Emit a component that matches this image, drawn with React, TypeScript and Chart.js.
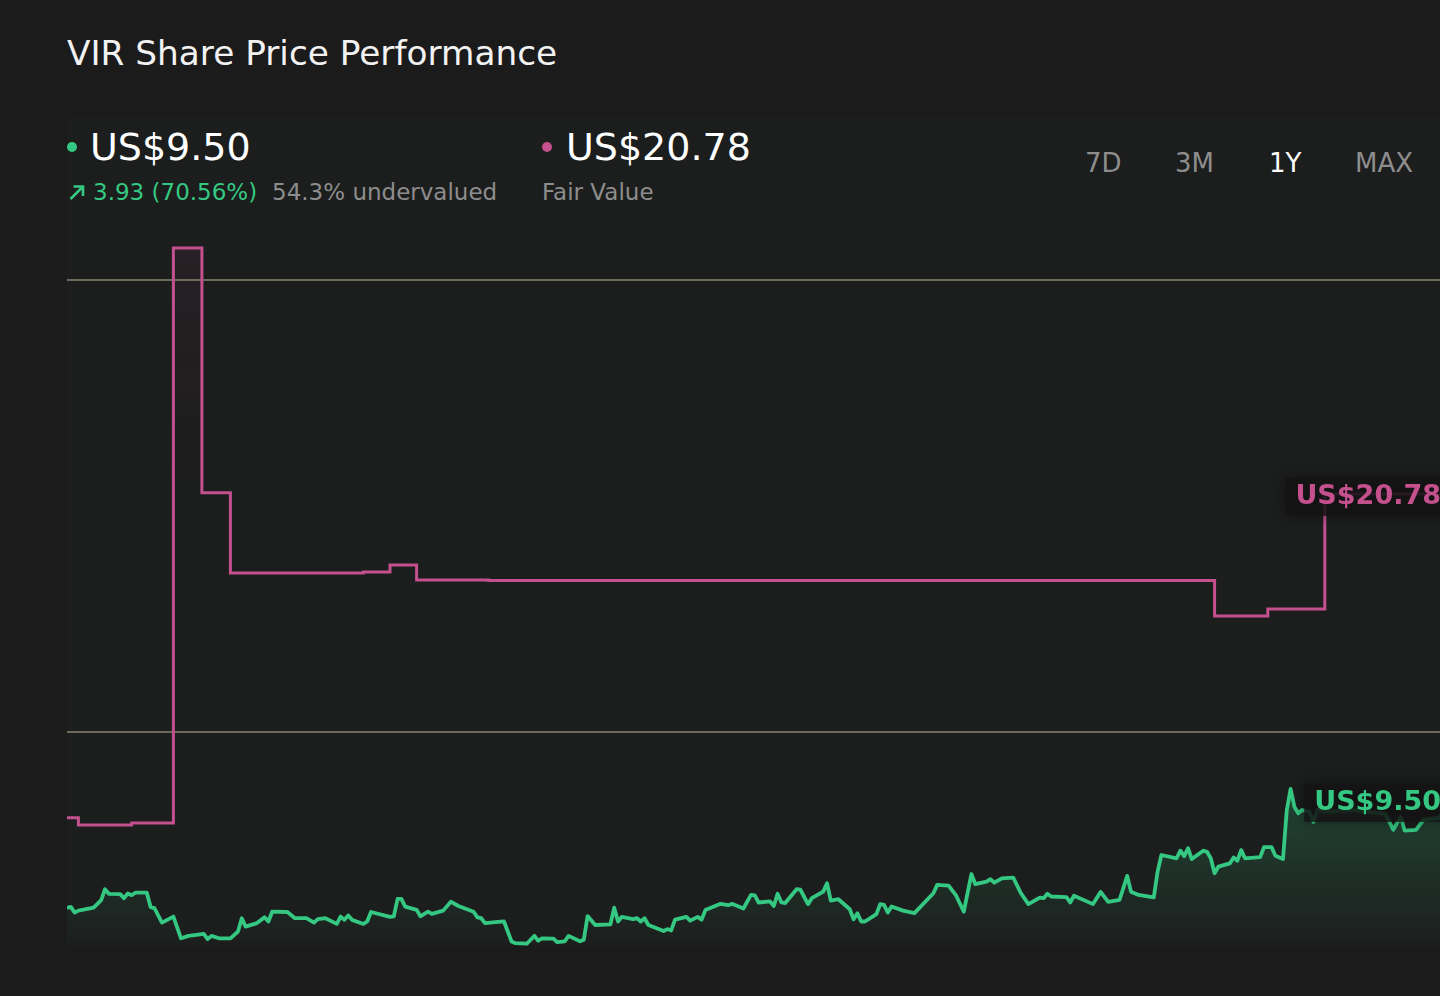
import { useEffect, useRef } from "react"
import { Chart, registerables } from "chart.js"

Chart.register(...registerables)

// Share price, day index (calendar days over the last year) and US$
const priceDays = [
  0, 1, 2, 3, 7, 9, 10, 11, 14, 15, 16, 17, 18, 21, 22, 23, 25, 28, 30, 32, 36, 37, 38, 40, 43, 45, 46, 47, 50, 52,
  53, 54, 58, 60, 63, 65, 66, 68, 71, 72, 73, 74, 75, 78, 79, 80, 85, 86, 87, 88, 89, 92, 93, 95, 96, 99, 101, 103,
  107, 108, 109, 110, 112, 115, 117, 118, 121, 123, 124, 125, 128, 129, 131, 132, 135, 136, 137, 139, 143, 144, 145,
  146, 149, 150, 151, 152, 153, 157, 158, 159, 160, 163, 164, 166, 167, 168, 172, 174, 175, 178, 180, 181, 182, 185,
  186, 187, 188, 189, 192, 193, 195, 196, 199, 200, 201, 203, 206, 207, 208, 209, 210, 213, 214, 215, 216, 217, 220,
  223, 228, 229, 232, 234, 236, 238, 239, 242, 243, 244, 246, 249, 251, 253, 256, 257, 258, 259, 263, 264, 265, 270,
  272, 274, 277, 279, 280, 282, 286, 287, 288, 292, 293, 294, 295, 296, 299, 300, 301, 302, 303, 306, 307, 308, 309,
  310, 314, 315, 317, 318, 320, 321, 322, 323, 324, 325, 327, 328, 329, 332, 338, 343, 347, 349, 351, 352, 355, 357,
  361, 365,
]
const priceValues = [
  5.52, 5.56, 5.35, 5.42, 5.53, 5.81, 6.21, 6.04, 6.03, 5.88, 6.05, 5.99, 6.08, 6.08, 5.55, 5.51, 4.98, 5.2, 4.4, 4.49,
  4.56, 4.37, 4.49, 4.4, 4.4, 4.65, 5.14, 4.83, 4.96, 5.18, 5.02, 5.38, 5.37, 5.14, 5.14, 4.98, 5.11, 5.14, 4.93, 5.2,
  5.08, 5.24, 5.08, 4.93, 5.02, 5.37, 5.19, 5.21, 5.85, 5.85, 5.57, 5.45, 5.21, 5.38, 5.3, 5.42, 5.75, 5.59, 5.38,
  5.17, 5.14, 4.96, 4.99, 5.02, 4.28, 4.22, 4.2, 4.49, 4.31, 4.4, 4.39, 4.26, 4.29, 4.49, 4.29, 4.35, 5.22, 4.89,
  4.91, 5.53, 5.02, 5.19, 5.11, 5.14, 5.02, 5.14, 4.89, 4.67, 4.74, 4.69, 5.09, 5.19, 5.05, 5.19, 5.09, 5.44, 5.67,
  5.62, 5.67, 5.5, 6.0, 5.98, 5.72, 5.76, 5.59, 6.04, 5.72, 5.7, 6.21, 6.19, 5.66, 5.88, 6.12, 6.43, 5.79, 5.84,
  5.47, 5.1, 5.32, 5.02, 5.02, 5.29, 5.66, 5.63, 5.35, 5.57, 5.42, 5.33, 6.06, 6.37, 6.34, 5.97, 5.38, 6.77, 6.4,
  6.49, 6.58, 6.45, 6.61, 6.64, 6.07, 5.66, 5.9, 5.88, 6.04, 5.94, 5.92, 5.72, 5.97, 5.66, 6.11, 5.74, 5.82, 6.7,
  6.12, 6.0, 5.91, 6.86, 7.47, 7.35, 7.63, 7.43, 7.72, 7.32, 7.63, 7.59, 7.35, 6.8, 7.04, 7.16, 7.38, 7.26, 7.65,
  7.35, 7.39, 7.76, 7.76, 7.44, 7.32, 9.13, 9.91, 9.25, 9.01, 9.13, 9.06, 8.69, 9.13, 9.06, 9.13, 9.06, 8.98, 8.4,
  8.88, 8.37, 8.4, 8.77, 8.84, 9.5,
]

// Fair value estimate, changes on these days
const fairValueDays = [0, 3, 17, 28, 35.5, 43, 78, 85, 92, 111, 302, 316, 331, 365]
const fairValues = [8.84, 8.58, 8.65, 29.85, 20.82, 17.87, 17.9, 18.16, 17.61, 17.59, 16.28, 16.54, 20.78, 20.78]

const gridValues = [12, 28.67]
const ranges = ["7D", "3M", "1Y", "MAX"]
const activeRange = "1Y"

const GREEN = "#35c882"
const PINK = "#c4508e"
const FONT = "'DejaVu Sans', sans-serif"

const endLabels = {
  id: "endLabels",
  afterDatasetsDraw(chart: any) {
    const { ctx, chartArea, scales } = chart
    chart.data.datasets.forEach((ds: any) => {
      const last = ds.data[ds.data.length - 1]
      const y = scales.y.getPixelForValue(last.y)
      const text = "US$" + last.y.toFixed(2)
      ctx.save()
      ctx.font = `bold 27px ${FONT}`
      const w = ctx.measureText(text).width
      const right = chartArea.right - 13
      ctx.shadowColor = "rgba(0,0,0,0.5)"
      ctx.shadowBlur = 14
      ctx.fillStyle = "rgba(21,20,21,0.8)"
      ctx.fillRect(right - w - 10, y - 16, w + 40, 38)
      ctx.shadowBlur = 0
      ctx.fillStyle = ds.borderColor
      ctx.textAlign = "right"
      ctx.textBaseline = "alphabetic"
      ctx.fillText(text, right, y + 10)
      ctx.restore()
    })
  },
}

function PriceChart() {
  const chartRef = useRef<HTMLCanvasElement>(null)
  const chartInstance = useRef<Chart | null>(null)

  useEffect(() => {
    if (!chartRef.current) return
    if (chartInstance.current) chartInstance.current.destroy()
    const ctx = chartRef.current.getContext("2d")
    if (!ctx) return

    chartInstance.current = new Chart(ctx, {
      type: "line",
      data: {
        datasets: [
          {
            label: "Fair Value",
            data: fairValueDays.map((d, i) => ({ x: d, y: fairValues[i] })),
            borderColor: PINK,
            borderWidth: 3,
            stepped: true,
            pointRadius: 0,
            borderJoinStyle: "miter",
            fill: "start",
            backgroundColor: (c: any) => {
              const { chart } = c
              const { chartArea, scales } = chart
              if (!chartArea) return "transparent"
              const g = chart.ctx.createLinearGradient(0, chartArea.top, 0, scales.y.getPixelForValue(21))
              g.addColorStop(0, "rgba(196,80,142,0.07)")
              g.addColorStop(1, "rgba(196,80,142,0)")
              return g
            },
          },
          {
            label: "Share Price",
            data: priceDays.map((d, i) => ({ x: d, y: priceValues[i] })),
            borderColor: GREEN,
            borderWidth: 3.8,
            tension: 0,
            pointRadius: 0,
            borderJoinStyle: "round",
            fill: "start",
            backgroundColor: (c: any) => {
              const { chart } = c
              const { chartArea, scales } = chart
              if (!chartArea) return "transparent"
              const g = chart.ctx.createLinearGradient(
                0,
                scales.y.getPixelForValue(10),
                0,
                scales.y.getPixelForValue(3.9)
              )
              g.addColorStop(0, "rgba(53,200,130,0.24)")
              g.addColorStop(1, "rgba(53,200,130,0)")
              return g
            },
          },
        ],
      },
      options: {
        responsive: true,
        maintainAspectRatio: false,
        animation: false,
        layout: { padding: { left: 0, right: 13, top: 0, bottom: 0 } },
        scales: {
          x: { type: "linear", min: 0, max: 365, display: false },
          y: {
            type: "linear",
            min: 3.6,
            max: 30.51,
            afterBuildTicks: (scale: any) => {
              scale.ticks = gridValues.map((value) => ({ value }))
            },
            ticks: { display: false },
            border: { display: false },
            grid: { color: "rgba(150,145,122,0.68)", lineWidth: 2, drawTicks: false },
          },
        },
        plugins: {
          legend: { display: false },
          tooltip: { enabled: false },
        },
      },
      plugins: [endLabels],
    })

    return () => {
      if (chartInstance.current) {
        chartInstance.current.destroy()
        chartInstance.current = null
      }
    }
  }, [])

  return <canvas ref={chartRef} />
}

const abs = (left: number, top: number, size: number, color: string, extra: any = {}) => ({
  position: "absolute" as const,
  left,
  top,
  fontSize: size,
  lineHeight: `${size}px`,
  color,
  whiteSpace: "nowrap" as const,
  ...extra,
})

export default function App() {
  return (
    <div
      style={{
        position: "fixed",
        inset: 0,
        background: "#1b1b1b",
        overflow: "hidden",
        fontFamily: FONT,
      }}
    >
      <div
        style={{
          position: "absolute",
          left: 67,
          top: 117,
          width: 1373,
          height: 828,
          background: "#1c1d1d",
        }}
      />
      <div style={abs(67, 36, 34.3, "#f2f2f2")}>VIR Share Price Performance</div>

      <div style={{ position: "absolute", left: 67, top: 142, width: 10, height: 10, borderRadius: 5, background: GREEN }} />
      <div style={abs(90, 128, 38, "#ffffff")}>US$9.50</div>
      <svg style={{ position: "absolute", left: 68, top: 183 }} width="18" height="18" viewBox="0 0 18 18">
        <path d="M2.5 16 L15 3.5 M5.5 3.5 L15 3.5 L15 13" stroke={GREEN} strokeWidth="2.6" fill="none" />
      </svg>
      <div style={abs(93, 181, 23, GREEN)}>3.93 (70.56%)</div>
      <div style={abs(272, 181, 23, "#8d8d8d")}>54.3% undervalued</div>

      <div style={{ position: "absolute", left: 542, top: 142, width: 10, height: 10, borderRadius: 5, background: PINK }} />
      <div style={abs(566, 128, 38, "#ffffff")}>US$20.78</div>
      <div style={abs(542, 181, 23, "#8d8d8d")}>Fair Value</div>

      {ranges.map((r, i) => (
        <div key={r} style={abs([1085, 1175, 1269, 1355][i], 150, 26, r === activeRange ? "#ffffff" : "#8d8d8d")}>
          {r}
        </div>
      ))}

      <div style={{ position: "absolute", left: 67, top: 230, width: 1400, height: 730 }}>
        <PriceChart />
      </div>
    </div>
  )
}
